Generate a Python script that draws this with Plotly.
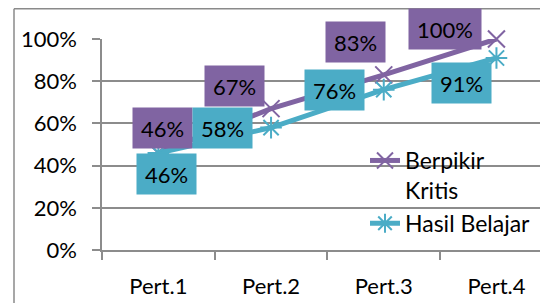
import plotly.graph_objects as go

categories = ["Pert.1", "Pert.2", "Pert.3", "Pert.4"]
berpikir_kritis = [0.46, 0.67, 0.83, 1.00]
hasil_belajar = [0.46, 0.58, 0.76, 0.91]
series_names = ["Berpikir<br>Kritis", "Hasil Belajar"]
y_ticks = [0, 0.2, 0.4, 0.6, 0.8, 1.0]
y_tick_labels = ["0%", "20%", "40%", "60%", "80%", "100%"]

PURPLE = "#8064A2"
CYAN = "#4BACC6"
GRID = "#8C8C8C"
FONT = "Lato"
FS = 22

# label offsets (pixels) for data labels: (xshift, yshift)
purple_offsets = [(4, 25), (-37, 23), (-28, 33), (-51, 10)]
cyan_offsets = [(8, -21), (-49, 0), (-49, 0), (-35, -25)]

# the page body has an 8px margin; lay out in page pixels and convert
OFF = 8
W, H = 548 - OFF, 303 - OFF
L, R_PX, T, B = 102 - OFF, 548 - OFF, 39 - OFF, 250 - OFF
pw = R_PX - L
ph = B - T


def px_x(p):
    return (p - OFF - L) / pw


def px_y(p):
    return (B - (p - OFF)) / ph


fig = go.Figure()
fig.add_trace(go.Scatter(
    x=categories, y=berpikir_kritis, name=series_names[0],
    mode="lines+markers", cliponaxis=False,
    line=dict(color=PURPLE, width=5),
    marker=dict(symbol="x-thin-open", size=17, color=PURPLE,
                line=dict(color=PURPLE, width=2)),
))
fig.add_trace(go.Scatter(
    x=categories, y=hasil_belajar, name=series_names[1],
    mode="lines+markers", cliponaxis=False,
    line=dict(color=CYAN, width=5),
    marker=dict(symbol="asterisk-open", size=18, color=CYAN,
                line=dict(color=CYAN, width=2)),
))

annotations = []
for vals, offs, col in ((berpikir_kritis, purple_offsets, PURPLE),
                        (hasil_belajar, cyan_offsets, CYAN)):
    for c, v, (dx, dy) in zip(categories, vals, offs):
        txt = f"{round(v * 100)}%"
        annotations.append(dict(
            x=c, y=v, xref="x", yref="y", text=txt, showarrow=False,
            xshift=dx, yshift=dy, bgcolor=col,
            width=len(txt) * 13 + 12, height=32, borderpad=4,
            font=dict(family=FONT, size=FS, color="black"),
        ))

shapes = [
    dict(type="line", xref="paper", yref="paper",
         x0=px_x(14), x1=px_x(14), y0=px_y(8.8), y1=px_y(320),
         line=dict(color="#8A8A8A", width=1.5)),
    dict(type="line", xref="paper", yref="paper",
         x0=px_x(14), x1=px_x(560), y0=px_y(8.8), y1=px_y(8.8),
         line=dict(color="#8A8A8A", width=1.5)),
]

fig.update_layout(
    width=W, height=H,
    margin=dict(l=L, r=W - R_PX, t=T, b=H - B, pad=0),
    paper_bgcolor="white", plot_bgcolor="white",
    font=dict(family=FONT, size=FS, color="black"),
    showlegend=True,
    legend=dict(x=px_x(365), y=px_y(139), xanchor="left", yanchor="top",
                bgcolor="rgba(0,0,0,0)", valign="top",
                font=dict(family=FONT, size=FS + 1, color="black"),
                itemwidth=30),
    annotations=annotations,
    shapes=shapes,
    hovermode=False,
)
fig.update_xaxes(
    type="category", range=[-0.5, -0.5 + pw / 112.7],
    showgrid=False, showline=True, linecolor=GRID, linewidth=1.5,
    ticks="outside", ticklen=8, tickcolor=GRID, tickwidth=1.5,
    tickson="boundaries", ticklabelstandoff=16,
    tickfont=dict(family=FONT, size=FS, color="black"),
)
fig.update_yaxes(
    range=[0, 1], tickvals=y_ticks, ticktext=y_tick_labels,
    showgrid=True, gridcolor=GRID, gridwidth=1.5,
    showline=True, linecolor=GRID, linewidth=1.5,
    ticks="outside", ticklen=8, tickcolor=GRID, tickwidth=1.5,
    ticklabelstandoff=11, zeroline=False,
    tickfont=dict(family=FONT, size=FS, color="black"),
)

fig.write_html("out.html")
